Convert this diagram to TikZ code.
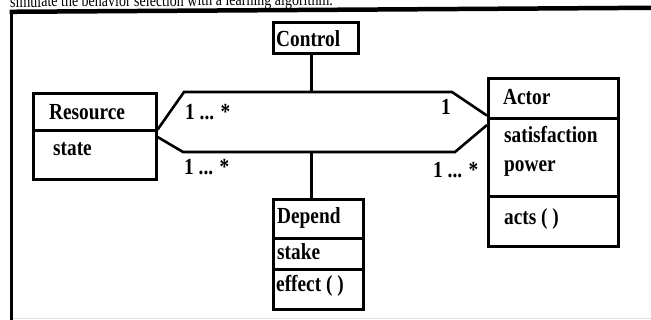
\documentclass[tikz,border=0pt]{standalone}
\usepackage{fontspec}
\setmainfont{Liberation Serif}
\newfontfamily\umlfont{Liberation Serif}[FakeStretch=0.84]
\begin{document}
\begin{tikzpicture}[x=1pt,y=-1pt,
  compart/.style={draw=black, line width=2.6pt, inner sep=0pt, anchor=north west},
  conn/.style={draw=black, line width=2.6pt},
  lbl/.style={font=\umlfont\bfseries\fontsize{23}{25}\selectfont, inner sep=0pt, anchor=base west},
  frame/.style={draw=black}]
\useasboundingbox (0,0) rectangle (651,320);
% caption fragment and frame
\node[font=\fontsize{14}{16}\selectfont, inner sep=0pt, anchor=base west, rotate=0.37] (cap) at (10,7.2) {\scalebox{1}[1.25]{simulate the behavior selection with a learning algorithm.}};
\draw[frame, line width=4.5pt] (9.7,11.8) -- (651,7.8);
\draw[frame, line width=3pt] (11.2,10) -- (11.2,320);
\draw[gray!25, line width=1pt] (13,318.5) -- (651,318.5);
% boxes
\node[compart, minimum width=85pt, minimum height=31pt] (ctl) at (272,21) {};
\node[compart, minimum width=123pt, minimum height=37pt] (resT) at (32,92) {};
\node[compart, minimum width=123pt, minimum height=49pt] (resA) at (32,129) {};
\node[compart, minimum width=130pt, minimum height=40pt] (actT) at (487,77) {};
\node[compart, minimum width=130pt, minimum height=78pt] (actA) at (487,117) {};
\node[compart, minimum width=130pt, minimum height=50pt] (actO) at (487,195) {};
\node[compart, minimum width=90pt, minimum height=39pt] (depT) at (272,198) {};
\node[compart, minimum width=90pt, minimum height=31pt] (depA) at (272,237) {};
\node[compart, minimum width=90pt, minimum height=40pt] (depO) at (272,268) {};
% texts
\node[lbl] (tCtl) at (276,46.7) {Control};
\node[lbl] (tRes) at (49,119.3) {Resource};
\node[lbl] (tState) at (53,156) {state};
\node[lbl] (tAct) at (503,104.3) {Actor};
\node[lbl] (tSat) at (504,142.7) {satisfaction};
\node[lbl] (tPow) at (504,171.7) {power};
\node[lbl] (tActs) at (504,225) {acts ( )};
\node[lbl] (tDep) at (277,223.3) {Depend};
\node[lbl] (tStake) at (277,260) {stake};
\node[lbl] (tEff) at (276,291.7) {effect ( )};
% multiplicities
\node[lbl] (m1) at (185,119.3) {1 ... *};
\node[lbl] (m2) at (184,174.3) {1 ... *};
\node[lbl] (m3) at (441,114.3) {1};
\node[lbl] (m4) at (433,177.3) {1 ... *};
% association
\coordinate (tl) at (184,92);
\coordinate (tr) at (452,92);
\coordinate (bl) at (183,152);
\coordinate (br) at (455,152);
\draw[conn] ([yshift=2pt]resT.south east) -- (tl) -- (tr) -- ([yshift=4pt]actT.south west);
\draw[conn] ([yshift=-8pt]resA.north east) -- (bl) -- (br) -- ([yshift=-8pt]actA.north west);
\draw[conn] ([xshift=-4.5pt]ctl.south) -- ([xshift=-4.5pt]ctl.south |- tl);
\draw[conn] ([xshift=-7pt]depT.north) -- ([xshift=-7pt]depT.north |- bl);
\end{tikzpicture}
\end{document}
